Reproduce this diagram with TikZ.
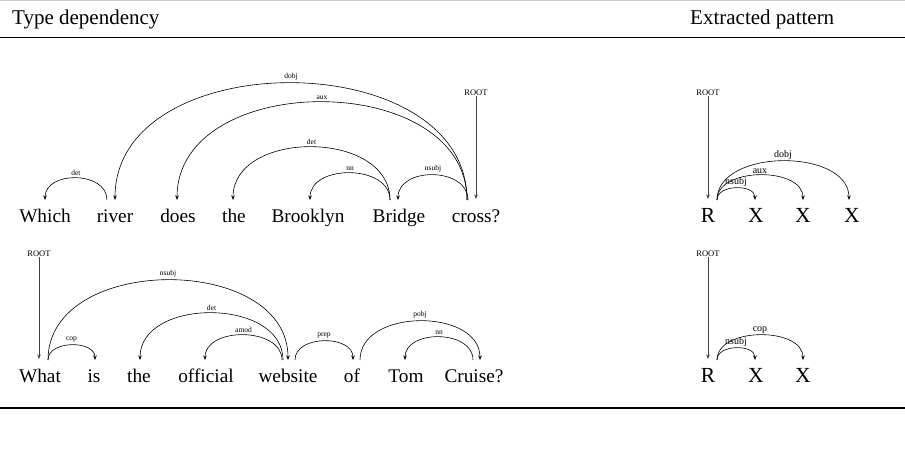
\documentclass[tikz,border=0pt]{standalone}
\usepackage{fontspec}
\setmainfont{Liberation Serif}
\usetikzlibrary{arrows.meta}
\newcommand\darc[7]{\draw[dep] ([shift={(#3,22)}]#2.base) .. controls +(0,#6*4/3) and +(0,#6*4/3) .. ([shift={(#5,22)}]#4.base) node[#1,pos=0.5]{#7};}
\begin{document}
\begin{tikzpicture}[x=1pt,y=1pt,
  word/.style={anchor=base, inner sep=0pt, font=\fontsize{19.3}{22}\selectfont},
  pword/.style={anchor=base, inner sep=0pt, font=\fontsize{21.5}{24}\selectfont},
  hdr/.style={anchor=base west, inner sep=0pt, font=\fontsize{21}{24}\selectfont},
  dep/.style={line width=0.6pt, -{Stealth[length=4.5pt,width=3.5pt]}},
  deplab/.style={above, inner sep=2.5pt, font=\fontsize{7.5}{8}\selectfont},
  plab/.style={above, inner sep=1.5pt, font=\fontsize{10}{11}\selectfont},
  rootlab/.style={inner sep=0pt, font=\fontsize{8.5}{9}\selectfont},
  rootarr/.style={line width=0.7pt, black!75, -{Stealth[length=4.5pt,width=3.5pt]}},
]
\useasboundingbox (0,0) rectangle (905,448);
% rules
\draw[black!20, line width=0.8pt] (0,447.4) -- (905,447.4);
\draw[line width=0.8pt] (0,411) -- (905,411);
\draw[line width=1.3pt] (0,40) -- (905,40);
% headers
\node[hdr] (h1) at (12,423) {Type dependency};
\node[hdr] (h2) at (690,423) {Extracted pattern};
% top sentence
\node[word] (w1) at (45,226) {Which};
\node[word] (w2) at (115,226) {river};
\node[word] (w3) at (178,226) {does};
\node[word] (w4) at (234,226) {the};
\node[word] (w5) at (308,226) {Brooklyn};
\node[word] (w6) at (399,226) {Bridge};
\node[word] (w7) at (476,226) {cross?};
\darc{deplab}{w2}{-8}{w1}{0}{22}{det}
\darc{deplab}{w7}{-9}{w2}{0}{117}{dobj}
\darc{deplab}{w7}{-9}{w3}{-1}{98}{aux}
\darc{deplab}{w6}{-9}{w4}{-1}{53}{det}
\darc{deplab}{w6}{-9}{w5}{2}{27}{nn}
\darc{deplab}{w7}{-8}{w6}{-1}{25}{nsubj}
\node[rootlab] (r1) at (476,355) {ROOT};
\coordinate (t1) at ([yshift=23]w7.base);
\draw[rootarr] (r1.south) -- (r1.south |- t1);
% top pattern
\node[pword] (p0) at (708,226) {R};
\node[pword] (p1) at (756,226) {X};
\node[pword] (p2) at (803,226) {X};
\node[pword] (p3) at (852,226) {X};
\darc{plab}{p0}{9}{p1}{-1}{12}{nsubj}
\darc{plab}{p0}{9}{p2}{0}{25}{aux}
\darc{plab}{p0}{9}{p3}{-3}{39}{dobj}
\node[rootlab] (r2) at (708,355) {ROOT};
\coordinate (t2) at ([yshift=23]p0.base);
\draw[rootarr] (r2.south) -- (r2.south |- t2);
% bottom sentence
\node[word] (v1) at (40,66) {What};
\node[word] (v2) at (94,66) {is};
\node[word] (v3) at (139,66) {the};
\node[word] (v4) at (206,66) {official};
\node[word] (v5) at (288,66) {website};
\node[word] (v6) at (352,66) {of};
\node[word] (v7) at (406,66) {Tom};
\node[word] (v8) at (474,66) {Cruise?};
\darc{deplab}{v1}{8}{v2}{1}{15}{cop}
\darc{deplab}{v1}{8}{v5}{0}{80}{nsubj}
\darc{deplab}{v5}{-5}{v3}{1}{47}{det}
\darc{deplab}{v5}{-6}{v4}{-1}{25}{amod}
\darc{deplab}{v5}{7}{v6}{1}{19}{prep}
\darc{deplab}{v6}{8}{v8}{6}{39}{pobj}
\darc{deplab}{v8}{-1}{v7}{-1}{23}{nn}
\node[rootlab] (r3) at (39,194) {ROOT};
\coordinate (t3) at ([yshift=23]v1.base);
\draw[rootarr] (r3.south) -- (r3.south |- t3);
% bottom pattern
\node[pword] (q0) at (708,66) {R};
\node[pword] (q1) at (756,66) {X};
\node[pword] (q2) at (803,66) {X};
\darc{plab}{q0}{9}{q1}{-1}{12}{nsubj}
\darc{plab}{q0}{9}{q2}{0}{25}{cop}
\node[rootlab] (r4) at (708,194) {ROOT};
\coordinate (t4) at ([yshift=23]q0.base);
\draw[rootarr] (r4.south) -- (r4.south |- t4);
\end{tikzpicture}
\end{document}
